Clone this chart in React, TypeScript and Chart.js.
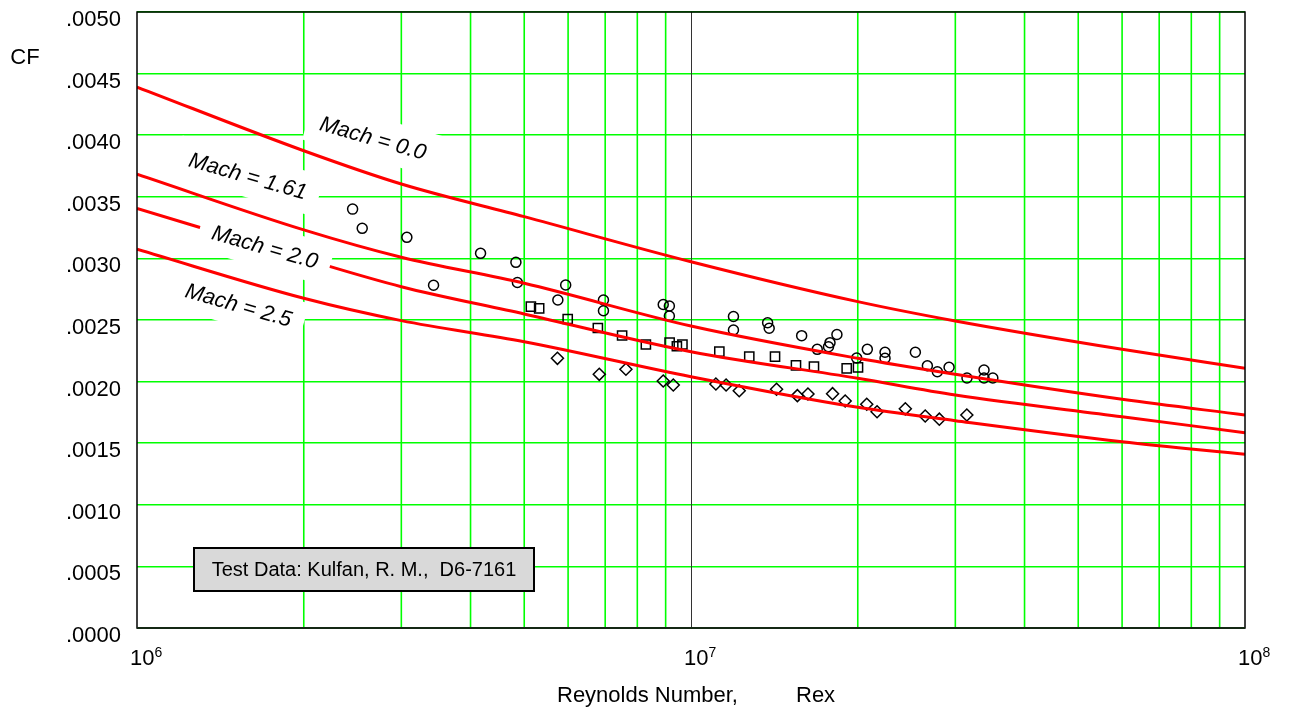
import { useEffect, useRef } from "react";
import { Chart, registerables } from "chart.js";

Chart.register(...registerables);

// Reynolds numbers at which the theoretical skin-friction curves are tabulated
const CURVE_RE = [1e6, 2e6, 3e6, 5e6, 1e7, 2e7, 3e7, 6e7, 1e8];
const CF_MACH_0 = [0.004391, 0.003874, 0.003604, 0.003339, 0.002973, 0.002649, 0.002492, 0.002262, 0.002108];
const CF_MACH_161 = [0.003683, 0.003231, 0.003009, 0.002798, 0.002451, 0.002189, 0.002059, 0.001856, 0.001729];
const CF_MACH_20 = [0.003406, 0.002997, 0.00277, 0.002549, 0.002243, 0.002027, 0.001891, 0.001715, 0.001585];
const CF_MACH_25 = [0.003074, 0.002676, 0.002495, 0.002324, 0.00204, 0.001791, 0.001683, 0.001512, 0.00141];
const CURVE_NAMES = ["Mach = 0.0", "Mach = 1.61", "Mach = 2.0", "Mach = 2.5"];

// Test data (Kulfan, D6-7161)
const CIRCLE_RE = [
  2.45e6, 2.55e6, 3.07e6, 3.43e6, 4.17e6, 4.83e6, 4.86e6, 5.75e6, 5.94e6, 6.95e6, 6.95e6, 8.91e6,
  9.14e6, 9.14e6, 1.193e7, 1.193e7, 1.375e7, 1.384e7, 1.584e7, 1.69e7, 1.771e7, 1.782e7, 1.834e7,
  1.991e7, 2.081e7, 2.24e7, 2.24e7, 2.541e7, 2.671e7, 2.784e7, 2.923e7, 3.149e7, 3.38e7, 3.38e7, 3.506e7,
];
const CIRCLE_CF = [
  0.0034, 0.003244, 0.003171, 0.002782, 0.003041, 0.002968, 0.002804, 0.002662, 0.002784, 0.002662,
  0.002575, 0.002626, 0.002614, 0.002532, 0.002528, 0.002419, 0.002478, 0.002433, 0.002373, 0.002262,
  0.002283, 0.002316, 0.002382, 0.002192, 0.002262, 0.002238, 0.002189, 0.002238, 0.002129, 0.00208,
  0.002116, 0.002029, 0.002094, 0.002029, 0.002029,
];
const SQUARE_RE = [
  5.14e6, 5.32e6, 5.99e6, 6.79e6, 7.51e6, 8.29e6, 9.15e6, 9.43e6, 9.65e6, 1.125e7, 1.274e7, 1.418e7,
  1.547e7, 1.667e7, 1.91e7, 2.002e7,
];
const SQUARE_CF = [
  0.002608, 0.002595, 0.002508, 0.002435, 0.002374, 0.002301, 0.002316, 0.002287, 0.002301, 0.002243,
  0.002202, 0.002202, 0.002132, 0.002121, 0.002108, 0.002116,
];
const DIAMOND_RE = [
  5.74e6, 6.83e6, 7.63e6, 8.91e6, 9.29e6, 1.109e7, 1.157e7, 1.222e7, 1.427e7, 1.556e7, 1.626e7, 1.801e7,
  1.898e7, 2.076e7, 2.167e7, 2.437e7, 2.647e7, 2.807e7, 3.147e7,
];
const DIAMOND_CF = [
  0.002189, 0.002059, 0.0021, 0.002005, 0.001972, 0.001981, 0.001972, 0.001926, 0.001938, 0.001886,
  0.001899, 0.001902, 0.001843, 0.001816, 0.001755, 0.001779, 0.001721, 0.001695, 0.001729,
];

// Axis ticks
const X_GRID = [
  2e6, 3e6, 4e6, 5e6, 6e6, 7e6, 8e6, 9e6, 2e7, 3e7, 4e7, 5e7, 6e7, 7e7, 8e7, 9e7,
];
const X_DECADES = [1e6, 1e7, 1e8];
const X_EXPONENTS = ["6", "7", "8"];
const Y_TICKS = [0, 0.0005, 0.001, 0.0015, 0.002, 0.0025, 0.003, 0.0035, 0.004, 0.0045, 0.005];
const NOTE_TEXT = "Test Data: Kulfan, R. M.,  D6-7161";

const FONT = '"Liberation Sans", Arial, sans-serif';
const GRID_GREEN = "#00ff00";

const pairs = (xs: number[], ys: number[]) => xs.map((x, i) => ({ x, y: ys[i] }));

const decorations = {
  id: "decorations",
  beforeDatasetsDraw(chart: any) {
    const { ctx, chartArea: a, scales } = chart;
    const xs = scales.x;
    ctx.save();
    ctx.lineWidth = 1.6;
    ctx.strokeStyle = GRID_GREEN;
    for (const v of X_GRID) {
      const px = xs.getPixelForValue(v);
      ctx.beginPath();
      ctx.moveTo(px, a.top);
      ctx.lineTo(px, a.bottom);
      ctx.stroke();
    }
    // interior decade line
    ctx.lineWidth = 1;
    ctx.strokeStyle = "#333333";
    const pd = Math.round(xs.getPixelForValue(X_DECADES[1])) + 0.5;
    ctx.beginPath();
    ctx.moveTo(pd, a.top);
    ctx.lineTo(pd, a.bottom);
    ctx.stroke();
    ctx.restore();
  },
  afterDatasetsDraw(chart: any) {
    const { ctx, chartArea: a, scales } = chart;
    const xs = scales.x;
    const ys = scales.y;
    const items = chart.options.plugins.decorations.labels;
    ctx.save();
    ctx.font = `italic 22px ${FONT}`;
    for (const it of items) {
      const px = xs.getPixelForValue(it.re);
      const py = ys.getPixelForValue(it.cf);
      const w = ctx.measureText(it.text).width + 26;
      const h = 42;
      ctx.save();
      ctx.translate(px, py);
      ctx.rotate((it.angle * Math.PI) / 180);
      ctx.fillStyle = "#ffffff";
      ctx.fillRect(-w / 2, -h / 2, w, h);
      ctx.fillStyle = "#000000";
      ctx.textAlign = "center";
      ctx.textBaseline = "middle";
      ctx.fillText(it.text, 0, 1);
      ctx.restore();
    }
    // plot frame
    ctx.strokeStyle = "#000000";
    ctx.lineWidth = 1.5;
    ctx.strokeRect(a.left, a.top, a.right - a.left, a.bottom - a.top);
    ctx.lineWidth = 2;
    ctx.strokeStyle = "#142814";
    ctx.beginPath();
    ctx.moveTo(a.left, a.bottom);
    ctx.lineTo(a.right, a.bottom);
    ctx.stroke();
    ctx.restore();
  },
  afterDraw(chart: any) {
    const { ctx, chartArea: a, scales } = chart;
    const xs = scales.x;
    const ys = scales.y;
    ctx.save();
    ctx.fillStyle = "#000000";

    // y tick labels
    ctx.font = `22px ${FONT}`;
    ctx.textAlign = "right";
    ctx.textBaseline = "middle";
    for (const v of Y_TICKS) {
      const label = v.toFixed(4).replace(/^0/, "");
      ctx.fillText(label, a.left - 16, ys.getPixelForValue(v) + 8);
    }

    // x tick labels: 10 with superscript exponent
    X_DECADES.forEach((v, i) => {
      const px = xs.getPixelForValue(v);
      ctx.font = `22px ${FONT}`;
      ctx.textAlign = "left";
      ctx.textBaseline = "alphabetic";
      const w = ctx.measureText("10").width;
      const x0 = px - 7;
      ctx.fillText("10", x0, a.bottom + 37);
      ctx.font = `14px ${FONT}`;
      ctx.fillText(X_EXPONENTS[i], x0 + w, a.bottom + 29);
    });

    // axis titles
    ctx.font = `22px ${FONT}`;
    ctx.textAlign = "center";
    ctx.textBaseline = "middle";
    ctx.fillText("CF", 25, 58);
    ctx.textAlign = "left";
    ctx.fillText("Reynolds Number,", 557, 696);
    ctx.fillText("Rex", 796, 696);

    // data source note
    const bx = a.left + 57;
    const by = a.bottom - 80;
    const bw = 340;
    const bh = 43;
    ctx.fillStyle = "#d9d9d9";
    ctx.fillRect(bx, by, bw, bh);
    ctx.strokeStyle = "#000000";
    ctx.lineWidth = 2;
    ctx.strokeRect(bx, by, bw, bh);
    ctx.fillStyle = "#000000";
    ctx.font = `20px ${FONT}`;
    ctx.textAlign = "center";
    ctx.textBaseline = "middle";
    ctx.fillText(NOTE_TEXT, bx + bw / 2, by + bh / 2 + 1);
    ctx.restore();
  },
};

export default function App() {
  const canvasRef = useRef<HTMLCanvasElement | null>(null);

  useEffect(() => {
    const canvas = canvasRef.current;
    if (!canvas) return;

    const curve = (label: string, ys: number[]) => ({
      type: "line" as const,
      label,
      data: pairs(CURVE_RE, ys),
      borderColor: "#ff0000",
      borderWidth: 3,
      pointRadius: 0,
      fill: false,
      cubicInterpolationMode: "monotone" as const,
    });
    const marks = (label: string, xs: number[], ys: number[], style: string, r: number) => ({
      type: "scatter" as const,
      label,
      data: pairs(xs, ys),
      pointStyle: style,
      pointRadius: r,
      pointBorderColor: "#000000",
      pointBackgroundColor: "rgba(0,0,0,0)",
      pointBorderWidth: 1.5,
      showLine: false,
    });

    const chart = new Chart(canvas, {
      type: "scatter",
      data: {
        datasets: [
          curve(CURVE_NAMES[0], CF_MACH_0),
          curve(CURVE_NAMES[1], CF_MACH_161),
          curve(CURVE_NAMES[2], CF_MACH_20),
          curve(CURVE_NAMES[3], CF_MACH_25),
          marks("M 1.61 data", CIRCLE_RE, CIRCLE_CF, "circle", 5),
          marks("M 2.0 data", SQUARE_RE, SQUARE_CF, "rect", 6.5),
          marks("M 2.5 data", DIAMOND_RE, DIAMOND_CF, "rectRot", 6),
        ] as any,
      },
      options: {
        animation: false,
        responsive: false,
        devicePixelRatio: 1,
        layout: { padding: { left: 137, top: 12, right: 44, bottom: 82 } },
        plugins: {
          legend: { display: false },
          tooltip: { enabled: false },
          decorations: {
            labels: [
              { text: CURVE_NAMES[0], re: 2.667e6, cf: 0.003977, angle: 16 },
              { text: CURVE_NAMES[1], re: 1.586e6, cf: 0.003669, angle: 16 },
              { text: CURVE_NAMES[2], re: 1.702e6, cf: 0.003093, angle: 16 },
              { text: CURVE_NAMES[3], re: 1.525e6, cf: 0.002622, angle: 16 },
            ],
          },
        } as any,
        scales: {
          x: {
            type: "logarithmic",
            min: 1e6,
            max: 1e8,
            ticks: { display: false },
            grid: { display: false, drawTicks: false },
            border: { display: false },
          },
          y: {
            type: "linear",
            min: 0,
            max: 0.005,
            afterBuildTicks: (s: any) => {
              s.ticks = Y_TICKS.map((value) => ({ value }));
            },
            ticks: { display: false },
            grid: { drawTicks: false, lineWidth: 1.6, color: GRID_GREEN },
            border: { display: false },
          },
        },
      },
      plugins: [decorations],
    });

    return () => chart.destroy();
  }, []);

  return (
    <div style={{ position: "absolute", left: 0, top: 0, width: 1289, height: 710, background: "#ffffff" }}>
      <canvas ref={canvasRef} width={1289} height={710} style={{ display: "block" }} />
    </div>
  );
}
